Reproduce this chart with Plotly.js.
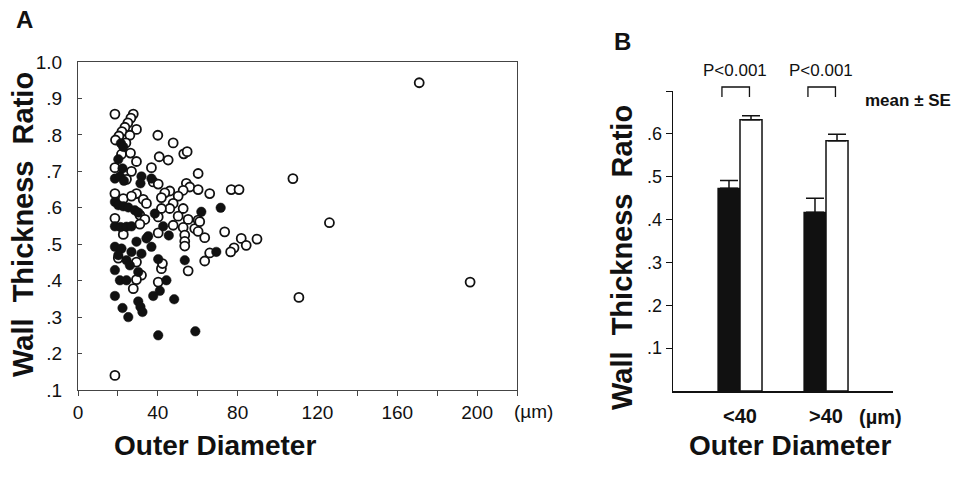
<!DOCTYPE html>
<html>
<head>
<meta charset="utf-8">
<script src="https://cdn.plot.ly/plotly-3.0.1.min.js"></script>
<style>html,body{margin:0;padding:0;background:#fff;}#chart{width:969px;height:478px;}</style>
</head>
<body>
<div id="chart"></div>
<script>
// ---- Panel A data: open circles ----
var openX = [18.5,27.7,26.5,25.0,23.5,22.0,20.5,18.8,29.3,26.0,24.0,40.0,47.7,53.0,54.7,40.7,45.2,21.8,26.3,29.3,
  18.5,26.8,36.8,60.2,24.3,37.7,40.2,54.3,56.0,46.0,60.2,66.0,76.8,80.7,52.7,50.2,43.5,41.8,18.5,29.3,
  32.7,34.3,22.7,26.8,47.7,46.0,52.7,41.8,50.2,55.2,60.2,40.2,31.0,33.5,18.5,31.0,47.7,52.7,58.5,60.2,
  63.5,73.5,53.5,22.7,40.2,61.0,53.5,53.5,81.8,84.3,89.7,78.2,76.5,66.0,63.5,20.2,29.3,31.8,29.3,41.8,
  42.3,55.2,40.2,27.7,18.5,107.7,126.0,110.7,171.0,196.5];
var openY = [0.857,0.857,0.846,0.833,0.821,0.809,0.797,0.786,0.815,0.799,0.778,0.799,0.778,0.748,0.754,0.740,0.731,0.747,0.750,0.727,
  0.710,0.700,0.710,0.694,0.678,0.671,0.665,0.667,0.657,0.646,0.650,0.639,0.650,0.650,0.648,0.632,0.641,0.628,0.639,0.639,
  0.623,0.612,0.625,0.632,0.612,0.598,0.598,0.598,0.577,0.568,0.566,0.575,0.580,0.568,0.571,0.555,0.552,0.546,0.543,0.535,
  0.518,0.534,0.525,0.527,0.531,0.562,0.508,0.495,0.516,0.497,0.514,0.490,0.479,0.476,0.454,0.462,0.451,0.415,0.403,0.433,
  0.447,0.427,0.396,0.378,0.140,0.680,0.559,0.354,0.943,0.396];
// ---- Panel A data: filled circles ----
var fillX = [21.5,22.7,20.2,22.3,18.5,21.0,23.0,31.8,31.3,36.8,18.5,20.2,22.7,25.2,28.5,30.2,38.5,61.8,71.5,18.5,
  21.3,24.3,26.8,42.7,35.2,45.5,18.5,21.8,26.8,29.3,34.3,36.8,31.8,40.2,24.3,26.0,18.5,21.0,24.3,30.2,
  44.3,41.0,37.7,18.5,22.3,25.2,30.2,31.3,32.3,40.2,58.8,48.2,53.5,69.3,20.2];
var fillY = [0.777,0.767,0.733,0.708,0.680,0.686,0.674,0.686,0.667,0.680,0.616,0.607,0.604,0.601,0.593,0.587,0.584,0.589,0.600,0.549,
  0.547,0.548,0.549,0.549,0.522,0.524,0.493,0.488,0.479,0.507,0.516,0.493,0.474,0.459,0.456,0.442,0.429,0.401,0.401,0.424,
  0.401,0.372,0.358,0.358,0.325,0.300,0.343,0.328,0.314,0.250,0.261,0.349,0.456,0.479,0.470];
var aXTicks = [0,20,40,60,80,100,120,140,160,180,200,220];
var aXTickText = ['0','','40','','80','','120','','160','','200',''];
var aYTicks = [0.1,0.2,0.3,0.4,0.5,0.6,0.7,0.8,0.9,1.0];
var aYTickText = ['.1','.2','.3','.4','.5','.6','.7','.8','.9','1.0'];

// ---- Panel B data ----
var groups = ['<40', '>40'];
var groupPos = [0, 1];
var blackMean = [0.473, 0.417];
var blackSE = [0.018, 0.033];
var whiteMean = [0.633, 0.584];
var whiteSE = [0.009, 0.015];
var pLabels = ['P<0.001', 'P<0.001'];
var bYTicks = [0.1,0.2,0.3,0.4,0.5,0.6,0.7];
var bYTickText = ['.1','.2','.3','.4','.5','.6',''];

var W = 969, H = 478;
function px(x){ return x / W; }
function py(y){ return 1 - y / H; }
var FONT = 'Liberation Sans, Arial, Helvetica, sans-serif';
var INK = '#111';
var barW = 0.256;

var traces = [
  {type:'scatter', mode:'markers', x: openX, y: openY, xaxis:'x', yaxis:'y',
   marker:{symbol:'circle', size:9, color:'#fff', line:{color:INK, width:1.8}}, hoverinfo:'x+y'},
  {type:'scatter', mode:'markers', x: fillX, y: fillY, xaxis:'x', yaxis:'y',
   marker:{symbol:'circle', size:9.5, color:INK, line:{color:INK, width:0.5}}, hoverinfo:'x+y'},
  {type:'bar', x: groupPos, y: blackMean, xaxis:'x2', yaxis:'y2', width: barW, offset: -barW,
   marker:{color:INK, line:{color:INK, width:1.2}},
   error_y:{type:'data', symmetric:false, array: blackSE, arrayminus:[0,0], color:INK, thickness:1.5, width:9}},
  {type:'bar', x: groupPos, y: whiteMean, xaxis:'x2', yaxis:'y2', width: barW, offset: 0,
   marker:{color:'#fff', line:{color:INK, width:1.5}},
   error_y:{type:'data', symmetric:false, array: whiteSE, arrayminus:[0,0], color:INK, thickness:1.5, width:9}}
];

function ann(text, x, y, size, extra){
  var a = {text:text, x:px(x), y:py(y), xref:'paper', yref:'paper', showarrow:false,
    xanchor:'center', yanchor:'middle', font:{family:FONT, size:size, color:INK}};
  for (var k in (extra||{})) a[k] = extra[k];
  return a;
}
var annotations = [
  ann('<b>A</b>', 24, 19, 24),
  ann('<b>B</b>', 622, 42, 24),
  ann('<b>Wall  Thickness  Ratio</b>', 23, 225, 29, {textangle:-90}),
  ann('<b>Wall  Thickness  Ratio</b>', 622, 258, 29, {textangle:-90}),
  ann('<b>Outer Diameter</b>', 215, 445, 28),
  ann('<b>Outer Diameter</b>', 790, 445, 28),
  ann('(\u00b5m)', 533, 411, 19),
  ann('<b>(\u00b5m)</b>', 880, 417, 20),
  ann('<b>mean \u00b1 SE</b>', 863, 100, 17, {xanchor:'left'})
];
var shapes = [];
groupPos.forEach(function(g, i){
  annotations.push({text:pLabels[i], x:g - 0.06, y:py(70), xref:'x2', yref:'paper', showarrow:false,
    xanchor:'center', yanchor:'middle', font:{family:FONT, size:17, color:INK}});
  shapes.push({type:'path', xref:'x2', yref:'paper',
    path:'M '+(g-0.21)+','+py(97)+' L '+(g-0.21)+','+py(87)+' L '+(g+0.11)+','+py(87)+' L '+(g+0.11)+','+py(97),
    line:{color:INK, width:1.3}});
});

var layout = {
  width:W, height:H, margin:{l:0,r:0,t:0,b:0}, showlegend:false,
  paper_bgcolor:'#fff', plot_bgcolor:'#fff',
  font:{family:FONT, color:INK},
  barmode:'group',
  xaxis:{domain:[px(78), px(517)], range:[0,220], tickvals:aXTicks, ticktext:aXTickText,
    ticks:'outside', ticklen:5, tickcolor:'#444', showline:true, mirror:true, linecolor:'#444', linewidth:1,
    showgrid:false, zeroline:false, tickfont:{size:19, color:INK}, ticklabelstandoff:0, anchor:'y'},
  yaxis:{domain:[py(390), py(62)], range:[0.1,1.0], tickvals:aYTicks, ticktext:aYTickText,
    ticks:'inside', ticklen:4, tickcolor:'#444', showline:true, mirror:true, linecolor:'#444', linewidth:1,
    showgrid:false, zeroline:false, tickfont:{size:19, color:INK}, ticklabelstandoff:11, anchor:'x'},
  xaxis2:{domain:[px(673), px(893)], range:[-0.779,1.779], tickvals:groupPos, ticktext:groups.map(function(s){return '<b>'+s+'</b>';}),
    ticks:'', showline:true, linecolor:INK, linewidth:1.5, showgrid:false, zeroline:false,
    tickfont:{size:20, color:INK}, ticklabelstandoff:6, anchor:'y2'},
  yaxis2:{domain:[py(391), py(91)], range:[0,0.7], tickvals:bYTicks, ticktext:bYTickText,
    ticks:'outside', ticklen:6, tickcolor:INK, showline:true, linecolor:INK, linewidth:1.5,
    showgrid:false, zeroline:false, tickfont:{size:18, color:INK}, anchor:'x2'},
  annotations:annotations, shapes:shapes
};
Plotly.newPlot('chart', traces, layout, {displayModeBar:false, staticPlot:true});
</script>
</body>
</html>
